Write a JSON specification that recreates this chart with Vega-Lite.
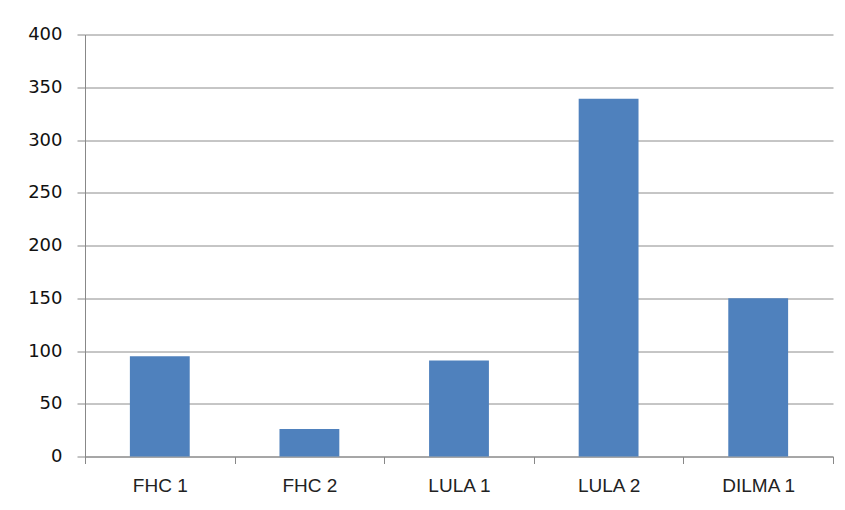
{
  "$schema": "https://vega.github.io/schema/vega-lite/v6.json",
  "autosize": "none",
  "width": 748,
  "height": 422,
  "padding": {"left": 85, "top": 34.5, "right": 12, "bottom": 53.5},
  "background": "white",
  "data": {
    "values": [
      {"governo": "FHC 1", "valor": 95},
      {"governo": "FHC 2", "valor": 26},
      {"governo": "LULA 1", "valor": 91},
      {"governo": "LULA 2", "valor": 339},
      {"governo": "DILMA 1", "valor": 150}
    ]
  },
  "mark": {"type": "bar", "color": "#4F81BD", "width": {"band": 0.4}},
  "encoding": {
    "x": {
      "field": "governo",
      "type": "nominal",
      "sort": null,
      "scale": {"paddingInner": 0, "paddingOuter": 0},
      "axis": {
        "title": null,
        "labelAngle": 0,
        "labelFont": "Liberation Sans",
        "labelFontSize": 19,
        "labelColor": "#222",
        "labelPadding": 13,
        "tickBand": "extent",
        "tickSize": 7,
        "tickColor": "#888",
        "domainColor": "#888",
        "grid": false
      }
    },
    "y": {
      "field": "valor",
      "type": "quantitative",
      "scale": {"domain": [0, 400], "nice": false},
      "axis": {
        "title": null,
        "values": [0, 50, 100, 150, 200, 250, 300, 350, 400],
        "labelFont": "DejaVu Sans",
        "labelFontSize": 18,
        "labelColor": "#111",
        "labelPadding": 15,
        "tickSize": 8,
        "tickColor": "#888",
        "domainColor": "#888",
        "grid": true,
        "gridColor": "#8c8c8c",
        "gridOpacity": 1
      }
    }
  },
  "config": {
    "view": {"stroke": null}
  }
}
